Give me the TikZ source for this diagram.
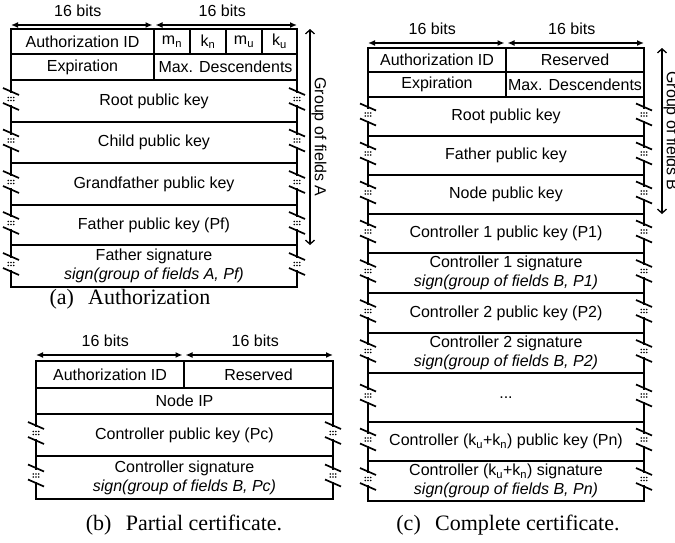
\documentclass[tikz,border=0pt]{standalone}
\usepackage{fontspec}
\setmainfont{Liberation Serif}
\setsansfont{Liberation Sans}
\usetikzlibrary{arrows.meta}
\tikzset{
  fld/.style 2 args={draw,line width=1.8pt,inner sep=0pt,outer sep=0pt,anchor=north west,
    minimum width=#1pt,minimum height=#2pt,align=center,
    font=\sffamily\fontsize{16}{19}\selectfont},
  bits/.style={{Latex[length=7pt,width=6pt]}-{Latex[length=7pt,width=6pt]},line width=1.5pt},
  grp/.style={{Straight Barb[length=4pt,width=9pt]}-{Straight Barb[length=4pt,width=9pt]},line width=1.3pt},
  lbl/.style={font=\sffamily\fontsize{16}{19}\selectfont},
  capt/.style={font=\fontsize{22}{26}\selectfont},
}
\newcommand\brk[1]{%
  \begin{scope}[shift={(#1)},yshift=2pt]
    \fill[white] (-2,-6) rectangle (2,6);
    \draw[line width=1.7pt] (-8,-11)--(8,-4);
    \draw[line width=1.7pt] (-8,4)--(8,11);
    \foreach \dx in {-2.8,0,2.8}
      \foreach \dy in {-1.5,1.5}
        \fill (\dx,\dy) circle (0.9pt);
  \end{scope}}
\begin{document}
\begin{tikzpicture}[x=1pt,y=-1pt]
  \useasboundingbox (0,0) rectangle (675,542);
  % (a) authorization
  \node[fld={143}{25}] (a-auth) at (11,29) {Authorization ID};
  \node[fld={36}{25}] (a-mn) at (154,29) {m\textsubscript{n}};
  \node[fld={36}{25}] (a-kn) at (190,29) {k\textsubscript{n}};
  \node[fld={36}{25}] (a-mu) at (226,29) {m\textsubscript{u}};
  \node[fld={35}{25}] (a-ku) at (262,29) {k\textsubscript{u}};
  \node[fld={143}{26}] (a-exp) at (11,54) {Expiration};
  \node[fld={143}{26}] (a-max) at (154,54) {Max. Descendents};
  \node[fld={286}{42}] (a-root) at (11,80) {Root public key};
  \node[fld={286}{41}] (a-child) at (11,122) {Child public key};
  \node[fld={286}{42}] (a-gf) at (11,163) {Grandfather public key};
  \node[fld={286}{40}] (a-fpk) at (11,205) {Father public key (Pf)};
  \node[fld={286}{42}] (a-fsig) at (11,245) {Father signature\\\textit{sign(group of fields A, Pf)}};
  \draw[bits] ([yshift=4pt]a-auth.north west) -- ([yshift=4pt,xshift=-1.5pt]a-auth.north east)
    node[midway,lbl,yshift=14pt,xshift=-4pt] (a-b1) {16 bits};
  \draw[bits] ([yshift=4pt,xshift=1.5pt]a-mn.north west) -- ([yshift=4pt]a-ku.north east)
    node[midway,lbl,yshift=14pt,xshift=-4pt] (a-b2) {16 bits};
  \draw[grp] ([xshift=13pt]a-ku.north east) -- ([xshift=13pt]a-fpk.south east)
    node[midway,lbl,rotate=-90,anchor=south,inner sep=1pt] (a-grp) {Group of fields A};
  \node[capt] (a-cap) at (130,299) {(a)\hspace{0.4em} Authorization};
  % (b) partial certificate
  \node[fld={148}{27}] (b-auth) at (36,361) {Authorization ID};
  \node[fld={149}{27}] (b-res) at (184,361) {Reserved};
  \node[fld={297}{26}] (b-ip) at (36,388) {Node IP};
  \node[fld={297}{42}] (b-cpk) at (36,414) {Controller public key (Pc)};
  \node[fld={297}{43}] (b-csig) at (36,456) {Controller signature\\\textit{sign(group of fields B, Pc)}};
  \draw[bits] ([yshift=6pt]b-auth.north west) -- ([yshift=6pt,xshift=-1.5pt]b-auth.north east)
    node[midway,lbl,yshift=14pt,xshift=-4pt] (b-b1) {16 bits};
  \draw[bits] ([yshift=6pt,xshift=1.5pt]b-res.north west) -- ([yshift=6pt]b-res.north east)
    node[midway,lbl,yshift=14pt,xshift=-4pt] (b-b2) {16 bits};
  \node[capt] (b-cap) at (184,525) {(b)\hspace{0.4em} Partial certificate.};
  % (c) complete certificate
  \node[fld={138}{24}] (c-auth) at (368,48) {Authorization ID};
  \node[fld={138}{24}] (c-res) at (506,48) {Reserved};
  \node[fld={138}{25}] (c-exp) at (368,72) {Expiration};
  \node[fld={138}{25}] (c-max) at (506,72) {Max. Descendents};
  \node[fld={276}{39}] (c-root) at (368,97) {Root public key};
  \node[fld={276}{39}] (c-father) at (368,136) {Father public key};
  \node[fld={276}{39}] (c-node) at (368,175) {Node public key};
  \node[fld={276}{39}] (c-p1) at (368,214) {Controller 1 public key (P1)};
  \node[fld={276}{40}] (c-s1) at (368,253) {Controller 1 signature\\\textit{sign(group of fields B, P1)}};
  \node[fld={276}{40}] (c-p2) at (368,293) {Controller 2 public key (P2)};
  \node[fld={276}{40}] (c-s2) at (368,333) {Controller 2 signature\\\textit{sign(group of fields B, P2)}};
  \node[fld={276}{49}] (c-dots) at (368,373) {...};
  \node[fld={276}{39}] (c-pn) at (368,422) {Controller (k\textsubscript{u}+k\textsubscript{n}) public key (Pn)};
  \node[fld={276}{40}] (c-sn) at (368,461) {Controller (k\textsubscript{u}+k\textsubscript{n}) signature\\\textit{sign(group of fields B, Pn)}};
  \draw[bits] ([yshift=5pt]c-auth.north west) -- ([yshift=5pt,xshift=-1.5pt]c-auth.north east)
    node[midway,lbl,yshift=14pt,xshift=-4pt] (c-b1) {16 bits};
  \draw[bits] ([yshift=5pt,xshift=1.5pt]c-res.north west) -- ([yshift=5pt]c-res.north east)
    node[midway,lbl,yshift=14pt,xshift=-4pt] (c-b2) {16 bits};
  \draw[grp] ([xshift=18pt]c-res.north east) -- ([xshift=18pt]c-node.south east)
    node[midway,lbl,rotate=-90,anchor=south,inner sep=1pt] (c-grp) {Group of fields B};
  \node[capt] (c-cap) at (508,525) {(c)\hspace{0.4em} Complete certificate.};
  % break marks
  \foreach \n in {a-root,a-child,a-gf,a-fpk,a-fsig,b-cpk,b-csig,
    c-root,c-father,c-node,c-p1,c-s1,c-p2,c-s2,c-dots,c-pn,c-sn}
    {\brk{\n.west}\brk{\n.east}}
\end{tikzpicture}
\end{document}
